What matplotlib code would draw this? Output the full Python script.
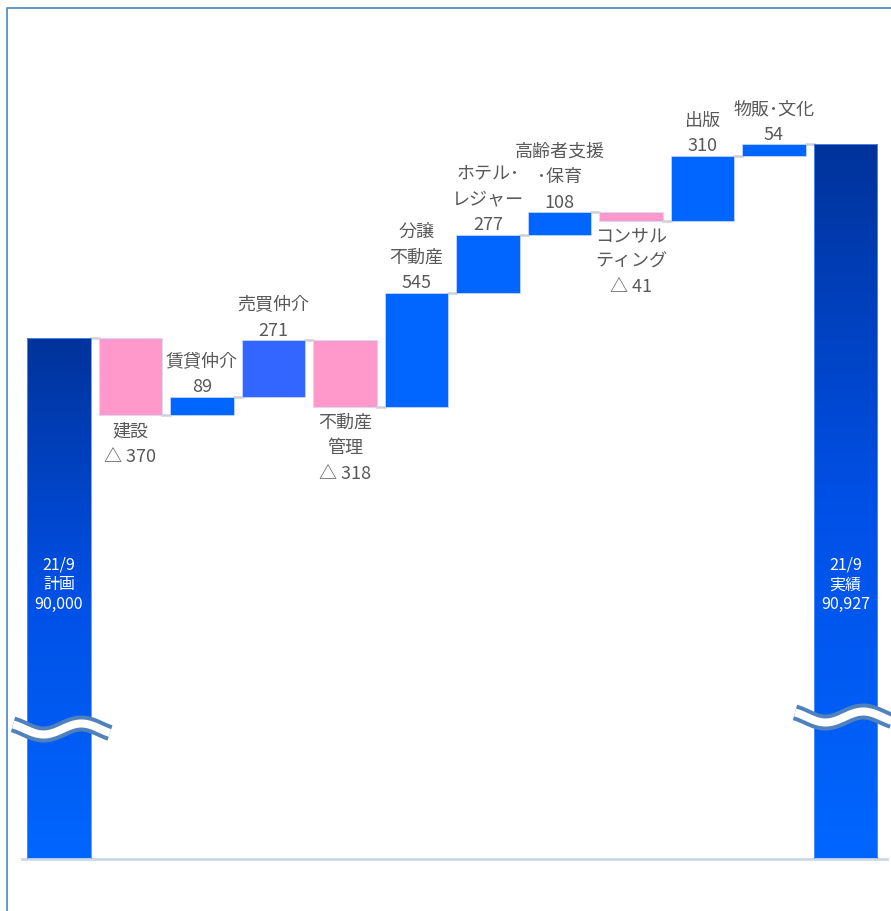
import numpy as np
import matplotlib.pyplot as plt
from matplotlib.colors import LinearSegmentedColormap
from matplotlib.lines import Line2D
from matplotlib.patches import Rectangle

plt.rcParams['font.family'] = ['Noto Sans CJK JP', 'DejaVu Sans']

# 増減の内訳（百万円）
names = ['建設', '賃貸仲介', '売買仲介', '不動産\n管理', '分譲\n不動産',
         'ホテル･\nレジャー', '高齢者支援\n･保育', 'コンサル\nティング', '出版', '物販･文化']
changes = [-370, 89, 271, -318, 545, 277, 108, -41, 310, 54]
plan_name = '21/9\n計画'
actual_name = '21/9\n実績'
plan = 90000
actual = 90927

bar_colors = ['#FF99CC', '#0066FF', '#3366FF', '#FF99CC', '#0066FF',
              '#0066FF', '#0066FF', '#FF99CC', '#0066FF', '#0066FF']

W, H = 891, 912
fig = plt.figure(figsize=(W / 100, H / 100), dpi=100)
ax = fig.add_axes([22 / W, (H - 860) / H, 865 / W, 830 / H])
ymin, ymax = 87511, 91476
ax.set_xlim(-0.517, 11.58)
ax.set_ylim(ymin, ymax)
for s in ['top', 'right', 'left']:
    ax.spines[s].set_visible(False)
ax.spines['bottom'].set_color('#CBD7EA')
ax.spines['bottom'].set_linewidth(2)
ax.set_xticks([])
ax.set_yticks([])

bw = 0.89
grey = '#595959'
fs = 13

# 合計バー（グラデーション）
grad = LinearSegmentedColormap.from_list('g', ['#0066FF', '#0050E6', '#00339A'])
def total_bar(x, top, label):
    rect = Rectangle((x - bw / 2, ymin), bw, top - ymin, facecolor='none',
                     edgecolor='#5C8FFF', linewidth=0.6, zorder=3)
    ax.add_patch(rect)
    im = ax.imshow(np.linspace(0, 1, 256).reshape(-1, 1), cmap=grad, origin='lower',
                   extent=[x - bw / 2, x + bw / 2, ymin, top], aspect='auto', zorder=2)
    im.set_clip_path(rect)
    ax.text(x, 88825, label, color='white', ha='center', va='center',
            fontsize=11.5, linespacing=1.2, zorder=4)

total_bar(0, plan, f'{plan_name}\n{plan:,}')

starts = plan + np.concatenate([[0], np.cumsum(changes)[:-1]])
ends = starts + np.array(changes)
xs = np.arange(1, len(changes) + 1)
ax.bar(xs, np.array(changes), bottom=starts, width=bw, color=bar_colors,
       edgecolor='#CCDDFF', linewidth=0.5, zorder=3)

for x, s, e, v, n in zip(xs, starts, ends, changes, names):
    if v > 0:
        ax.annotate(f'{n}\n{v}', (x, e), xytext=(0, 1), textcoords='offset points',
                    ha='center', va='bottom', color=grey, fontsize=fs, linespacing=1.55)
    else:
        ax.annotate(f'{n}\n△ {abs(v)}', (x, e), xytext=(0, -4), textcoords='offset points',
                    ha='center', va='top', color=grey, fontsize=fs, linespacing=1.55)

total_bar(len(changes) + 1, actual, f'{actual_name}\n{actual:,}')

# コネクタ線
levels = [plan] + list(ends)
for i, lv in enumerate(levels):
    ax.plot([i + bw / 2, i + 1 - bw / 2], [lv, lv], color='#D0D0D0', lw=1.8, zorder=1)

# 省略記号（波線）
def wave(x0, x1, yc):
    t = np.linspace(0, 1, 100)
    px = x0 + (x1 - x0) * t
    py = yc + 5.5 * np.sin(2 * np.pi * (t - 0.12) / 0.78)
    fx, fy = px / W, 1 - py / H
    fig.add_artist(Line2D(fx, fy, transform=fig.transFigure, color='#4F81BD',
                          lw=11.5, solid_capstyle='butt', zorder=5))
    fig.add_artist(Line2D(fx, fy, transform=fig.transFigure, color='white',
                          lw=5.8, solid_capstyle='butt', zorder=6))

wave(13, 110, 730)
wave(795, 892, 718)

# 外枠
fig.add_artist(Line2D([6.5 / W, 6.5 / W, 1], [0, 1 - 8.5 / H, 1 - 8.5 / H],
                      transform=fig.transFigure, color='#5B8DC8', lw=1.3))

fig.savefig('out.png', dpi=100)
